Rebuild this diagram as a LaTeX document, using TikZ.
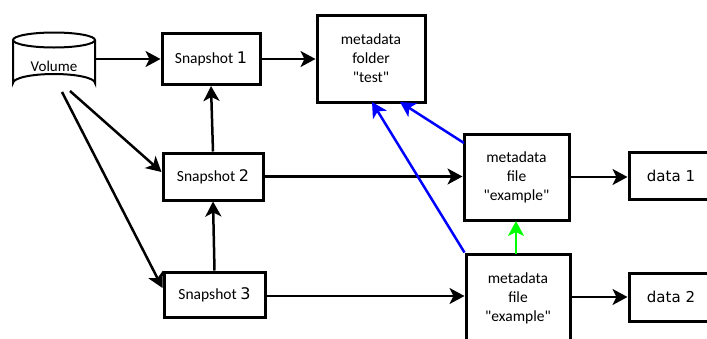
\documentclass[tikz,border=0pt]{standalone}
\usepackage{fontspec}
\newfontfamily\calfont{Carlito}
\newfontfamily\dejavu{DejaVu Sans}
\usetikzlibrary{arrows.meta}
\begin{document}
\begin{tikzpicture}[x=1pt,y=-1pt,
  box/.style={draw=black, line width=3pt, fill=white, align=center, inner sep=0pt, font=\calfont\fontsize{15.5}{19}\selectfont},
  tip/.style={-{Stealth[length=15pt,width=16pt,inset=4pt,#1]}},
  conn/.style={line width=2.5pt, tip={}},
  blueconn/.style={line width=2.5pt, draw=blue, tip={fill=blue}},
  greenconn/.style={line width=2.5pt, draw=green, tip={fill=green}}]
\useasboundingbox (0,0) rectangle (707,338);
\fill[white] (0,0) rectangle (707,338);
% Volume cylinder
\draw[line width=2pt, fill=white] (13,40) -- (13,83) arc[start angle=180,end angle=360,x radius=41,y radius=9] -- (95,40);
\draw[line width=2pt, fill=white] (54,40) ellipse[x radius=41, y radius=7.5];
\node[minimum width=82pt, minimum height=60pt, inner sep=0pt] (vol) at (54,62) {};
\node[font=\calfont\fontsize{15}{18}\selectfont] at (54,66) {Volume};
\coordinate (v1) at (95,59);
\coordinate (v2) at (70,91);
\coordinate (v3) at (62,92);
% Snapshots
\node[box, minimum width=98pt, minimum height=51pt] (s1) at (211,59) {Snapshot {\dejavu\fontsize{16}{19}\selectfont 1}};
\node[box, minimum width=100pt, minimum height=47pt] (s2) at (213,176.5) {Snapshot {\dejavu\fontsize{16}{19}\selectfont 2}};
\node[box, minimum width=101pt, minimum height=45pt] (s3) at (214.5,294.5) {Snapshot {\dejavu\fontsize{16}{19}\selectfont 3}};
% metadata
\node[box, minimum width=108pt, minimum height=87pt] (folder) at (371,58.5) {metadata\\folder\\"test"};
\node[box, minimum width=105pt, minimum height=86pt] (f1) at (516.5,177) {metadata\\file\\"example"};
\node[box, minimum width=104pt, minimum height=88pt] (f2) at (518,298) {metadata\\file\\"example"};
% data
\node[box, minimum width=84pt, minimum height=47pt, font=\dejavu\fontsize{15}{18}\selectfont] (d1) at (671,175.5) {data 1};
\node[box, minimum width=84pt, minimum height=48pt, font=\dejavu\fontsize{15}{18}\selectfont] (d2) at (671,297) {data 2};
% connectors
\draw[conn] (v1) -- (s1.west);
\draw[conn] (v2) -- (s2.west |- 0,172);
\draw[conn] (v3) -- (s3.west |- 0,288);
\draw[conn] (s2.north) -- (s1.south);
\draw[conn] (s3.north) -- (s2.south);
\draw[conn] (s1.east) -- (folder.west |- s1.east);
\draw[conn] (s2.east) -- (f1.west |- s2.east);
\draw[conn] (s3.east |- 0,296) -- (f2.west |- 0,296);
\draw[conn] (f1.east) -- (d1.west |- f1.east);
\draw[conn] (f2.east |- 0,297) -- (d2.west |- 0,297);
\coordinate (b1s) at (464,143);
\coordinate (b1e) at (400,102);
\coordinate (b2e) at (372,102);
\draw[blueconn] (b1s) -- (b1e);
\draw[blueconn] (f2.north west) -- (b2e);
\coordinate (g1) at (516,254);
\coordinate (g2) at (516,221);
\draw[greenconn] (g1) -- (g2);
\end{tikzpicture}
\end{document}
